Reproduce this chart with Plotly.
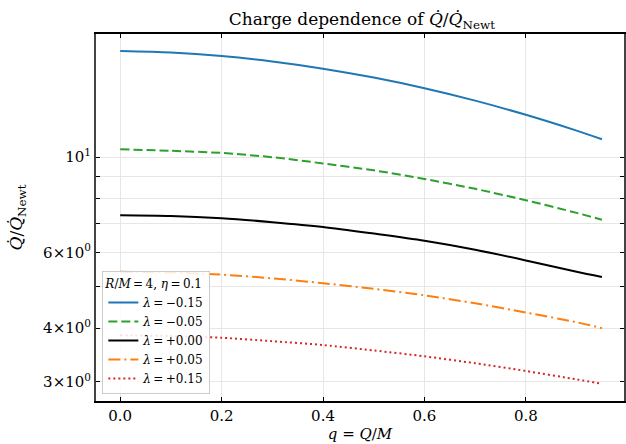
import plotly.graph_objects as go

# Charge parameter q = Q/M
q = [0.0, 0.1, 0.2, 0.3, 0.4, 0.5, 0.6, 0.7, 0.8, 0.9, 0.95]

# Qdot / Qdot_Newt for each coupling lambda (R/M = 4, eta = 0.1)
lam_m015 = [17.67, 17.53, 17.20, 16.70, 16.07, 15.32, 14.47, 13.54, 12.55, 11.53, 11.01]
lam_m005 = [10.43, 10.35, 10.23, 10.00, 9.67, 9.32, 8.90, 8.44, 7.94, 7.42, 7.15]
lam_p000 = [7.33, 7.30, 7.21, 7.06, 6.88, 6.64, 6.39, 6.09, 5.75, 5.41, 5.26]
lam_p005 = [5.41, 5.39, 5.33, 5.225, 5.09, 4.94, 4.77, 4.57, 4.35, 4.13, 4.00]
lam_p015 = [3.85, 3.835, 3.80, 3.73, 3.655, 3.55, 3.44, 3.315, 3.18, 3.04, 2.97]

series_labels = ["−0.15", "−0.05", "+0.00", "+0.05", "+0.15"]
series_values = [lam_m015, lam_m005, lam_p000, lam_p005, lam_p015]
series_colors = ["#1f77b4", "#2ca02c", "#000000", "#ff7f0e", "#d62728"]
series_dashes = ["solid", "9px,4px", "solid", "12px,4px,2px,4px", "2px,3px"]

x_ticks = [0.0, 0.2, 0.4, 0.6, 0.8]
x_ticklabels = ["0.0", "0.2", "0.4", "0.6", "0.8"]
y_ticks = [3, 4, 5, 6, 7, 8, 9, 10]
y_ticklabels = ["3×10<sup>0</sup>", "4×10<sup>0</sup>", "", "6×10<sup>0</sup>",
                "", "", "", "10<sup>1</sup>"]

FONT = "DejaVu Serif"
TS = "\u2009"  # thin space around relation signs

fig = go.Figure()
for lab, vals, col, dash in zip(series_labels, series_values, series_colors, series_dashes):
    fig.add_trace(go.Scatter(
        x=q, y=vals, mode="lines",
        line=dict(color=col, width=2, dash=dash, shape="spline", smoothing=0.8),
        name=f"<i>λ</i>{TS}={TS}{lab}",
    ))

axis_common = dict(
    ticks="inside", ticklen=4, tickwidth=1, tickcolor="black",
    showgrid=True, gridcolor="#e6e6e6", gridwidth=1,
    mirror="ticks", zeroline=False,
    tickfont=dict(family=FONT, size=15, color="black"),
)

fig.update_xaxes(
    range=[-0.0477, 0.9935], tickvals=x_ticks, ticktext=x_ticklabels,
    showline=True, linecolor="black", linewidth=1.5,
    title=dict(text="<i>q</i> = <i>Q</i>/<i>M</i>", font=dict(family=FONT, size=15, color="black"),
               standoff=4),
    **axis_common,
)
fig.update_yaxes(
    type="log", range=[0.4326, 1.2867], tickvals=y_ticks, ticktext=y_ticklabels,
    showline=True, linecolor="#444444", linewidth=2,
    title=dict(text="<i>Q̇</i>/<i>Q̇</i><sub>Newt</sub>", font=dict(family=FONT, size=17, color="black"),
               standoff=16),
    **axis_common,
)

fig.update_layout(
    width=626, height=444,
    margin=dict(l=96, r=0, t=34, b=43),
    paper_bgcolor="white", plot_bgcolor="white",
    font=dict(family=FONT, size=13, color="black"),
    title=dict(text="Charge dependence of <i>Q̇</i>/<i>Q̇</i><sub>Newt</sub>",
               x=0.578, xanchor="center", y=0.957, yanchor="middle",
               font=dict(family=FONT, size=17, color="black")),
    legend=dict(
        x=0.012, y=0.018, xanchor="left", yanchor="bottom",
        bgcolor="rgba(255,255,255,0.85)", bordercolor="#cccccc", borderwidth=1,
        font=dict(family=FONT, size=12, color="black"),
        title=dict(text=f"<i>R</i>/<i>M</i>{TS}={TS}4, <i>η</i>{TS}={TS}0.1",
                   font=dict(family=FONT, size=12, color="black")),
        itemwidth=30, tracegroupgap=0,
    ),
    showlegend=True,
)

fig.write_html("out.html")
